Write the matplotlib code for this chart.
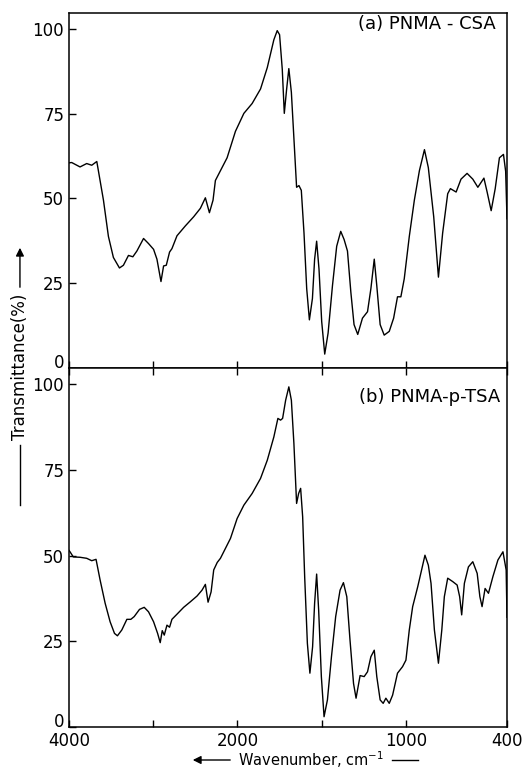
import numpy as np
import matplotlib
matplotlib.use("Agg")
import matplotlib.pyplot as plt

# spectra (wavenumber cm-1, transmittance %)
wn_a = [4000, 3968, 3869, 3790, 3730, 3670, 3591, 3532, 3473, 3401, 3354, 3294, 3242, 3194,
        3115, 3056, 2996, 2956, 2908, 2877, 2845, 2806, 2778, 2718, 2619, 2520, 2440, 2381,
        2333, 2290, 2262, 2202, 2123, 2024, 1962, 1913, 1863, 1823, 1784, 1764, 1750, 1734,
        1722, 1708, 1695, 1680, 1665, 1649, 1635, 1621, 1605, 1589, 1573, 1555, 1542, 1530,
        1516, 1500, 1482, 1462, 1436, 1411, 1387, 1367, 1347, 1327, 1308, 1286, 1258, 1228,
        1208, 1188, 1173, 1153, 1129, 1099, 1073, 1050, 1030, 1010, 980, 950, 920, 890, 867,
        835, 807, 782, 752, 736, 702, 673, 637, 603, 573, 537, 518, 494, 470, 445, 421, 408, 400]
t_a = [60.5, 60.6, 59.3, 60.3, 59.8, 60.9, 49.5, 38.8, 32.6, 29.5, 30.3, 33.2, 32.8, 34.5,
       38.2, 36.7, 35.0, 32.1, 25.5, 30.1, 30.3, 34.2, 35.2, 39.0, 41.9, 44.6, 47.1, 50.2,
       45.8, 49.5, 55.3, 58.2, 62.0, 69.8, 75.1, 78.0, 82.3, 88.6, 96.8, 99.5, 98.3, 88.1,
       75.1, 82.3, 88.3, 81.3, 67.8, 53.3, 53.8, 52.4, 39.8, 23.4, 14.2, 20.5, 32.1, 37.4,
       29.2, 13.7, 4.1, 10.3, 24.3, 35.9, 40.3, 37.9, 34.5, 22.4, 12.8, 9.9, 14.7, 16.6,
       23.4, 32.1, 24.3, 12.8, 9.7, 10.8, 14.7, 21.0, 21.0, 26.3, 38.8, 49.5, 58.2, 64.4, 59.1,
       44.6, 26.8, 39.8, 51.4, 52.9, 51.9, 55.7, 57.4, 55.7, 53.3, 56.0, 51.9, 46.4, 52.9, 62.0,
       63.0, 58.0, 44.0]

wn_b = [4000, 3988, 3949, 3869, 3790, 3730, 3679, 3631, 3571, 3512, 3460, 3425, 3373, 3313,
        3266, 3226, 3163, 3107, 3056, 2996, 2948, 2917, 2893, 2869, 2837, 2806, 2778, 2718,
        2639, 2560, 2480, 2421, 2381, 2349, 2313, 2282, 2240, 2202, 2083, 2004, 1962, 1913,
        1863, 1823, 1784, 1760, 1744, 1732, 1714, 1695, 1680, 1665, 1649, 1637, 1625, 1613,
        1601, 1585, 1570, 1554, 1542, 1530, 1518, 1502, 1486, 1466, 1442, 1417, 1391, 1371,
        1351, 1332, 1311, 1296, 1272, 1248, 1228, 1208, 1188, 1173, 1153, 1135, 1119, 1099,
        1079, 1050, 1020, 1000, 980, 960, 930, 907, 887, 867, 851, 831, 807, 787, 772, 752,
        722, 696, 681, 669, 653, 629, 603, 577, 561, 548, 530, 510, 484, 454, 424, 405, 400]
t_b = [51.5, 51.1, 49.6, 49.5, 49.2, 48.5, 48.9, 42.9, 36.1, 30.7, 27.3, 26.6, 28.3, 31.4,
       31.4, 32.2, 34.3, 34.9, 33.6, 30.7, 27.3, 24.6, 28.1, 26.8, 29.7, 29.1, 31.4, 32.9,
       34.9, 36.5, 38.2, 39.9, 41.6, 36.4, 39.4, 45.8, 48.0, 49.2, 55.0, 60.8, 64.7, 68.1,
       72.5, 77.8, 84.6, 90.0, 89.5, 90.0, 95.3, 99.2, 95.3, 82.7, 65.2, 68.1, 69.6, 61.3,
       43.8, 24.4, 15.7, 23.4, 36.1, 44.6, 34.1, 14.7, 3.0, 7.9, 20.5, 32.2, 39.9, 42.1,
       38.0, 25.4, 12.7, 8.4, 15.0, 14.7, 16.1, 20.5, 22.4, 14.7, 7.9, 6.9, 8.4, 6.9,
       9.3, 15.7, 17.6, 19.5, 28.3, 35.1, 40.9, 45.8, 50.1, 47.2, 41.9, 28.3, 18.6, 28.3, 38.0, 43.4,
       42.4, 41.4, 38.0, 32.7, 41.9, 46.7, 48.2, 44.8, 38.0, 35.1, 40.4, 39.0, 43.8, 48.7, 51.1, 45.8, 32.0]

labels = ['(a) PNMA - CSA', '(b) PNMA-p-TSA']
x_ticks = [4000, 3000, 2000, 1500, 1000, 400]
x_ticklabels = ['4000', '', '2000', '', '1000', '400']
y_ticks = [0, 25, 50, 75, 100]


# IR chart scale: below 2000 cm-1 the axis is stretched twice
def fwd(w):
    w = np.asarray(w, dtype=float)
    return np.where(w >= 2000, w, 2 * w - 2000)


def inv(t):
    t = np.asarray(t, dtype=float)
    return np.where(t >= 2000, t, (t + 2000) / 2)


plt.rcParams['font.family'] = 'DejaVu Sans'
fig = plt.figure(figsize=(5.25, 7.72), dpi=100)

left, width = 69 / 525, 438 / 525
ax_a = fig.add_axes([left, 1 - 368 / 772, width, 355 / 772])
ax_b = fig.add_axes([left, 1 - 727 / 772, width, 359 / 772])

for ax, wn, t in [(ax_a, wn_a, t_a), (ax_b, wn_b, t_b)]:
    ax.plot(wn, t, color='black', lw=1.0)
    ax.set_xscale('function', functions=(fwd, inv))
    ax.set_xlim(4000, 400)
    ax.set_ylim(0, 104.7)
    ax.set_yticks(y_ticks)
    ax.set_xticks(x_ticks)
    ax.tick_params(direction='in', length=5, width=1, labelsize=12)
    ax.minorticks_off()
    for s in ax.spines.values():
        s.set_linewidth(1.1)

ax_b.tick_params(axis='x', top=True)
ax_a.set_xticklabels([])
ax_b.set_xticklabels(x_ticklabels)

ax_a.text(0.975, 0.969, labels[0], transform=ax_a.transAxes, ha='right', va='center', fontsize=13)
ax_b.text(0.985, 0.919, labels[1], transform=ax_b.transAxes, ha='right', va='center', fontsize=13)

# lift the "0" labels a little so they clear the labels below
for ax in (ax_a, ax_b):
    ax.get_yticklabels()[0].set_verticalalignment('baseline')

# y label with arrow
fig.text(0.038, 0.525, 'Transmittance(%)', rotation=90, ha='center', va='center', fontsize=12)
fig.add_artist(plt.Line2D([0.038, 0.038], [1 - 505 / 772, 1 - 445 / 772], color='black', lw=1.0))
fig.add_artist(matplotlib.patches.FancyArrowPatch((0.038, 1 - 290 / 772), (0.038, 1 - 245 / 772),
               arrowstyle='-|>', mutation_scale=12, color='black', lw=1.0))

# x label with arrow on the left and a short line on the right
yx = 1 - 760 / 772
xl = fig.text(238 / 525, yx, 'Wavenumber, cm$^{-1}$', ha='left', va='center', fontsize=10.5)
fig.canvas.draw()
bb = xl.get_window_extent()
x_end = bb.x1 / 525
fig.add_artist(matplotlib.patches.FancyArrowPatch((233 / 525, yx), (190 / 525, yx),
               arrowstyle='-|>', mutation_scale=12, color='black', lw=1.0))
fig.add_artist(plt.Line2D([x_end + 8 / 525, x_end + 34 / 525], [yx, yx], color='black', lw=1.0))

fig.savefig('out.png', dpi=100)
